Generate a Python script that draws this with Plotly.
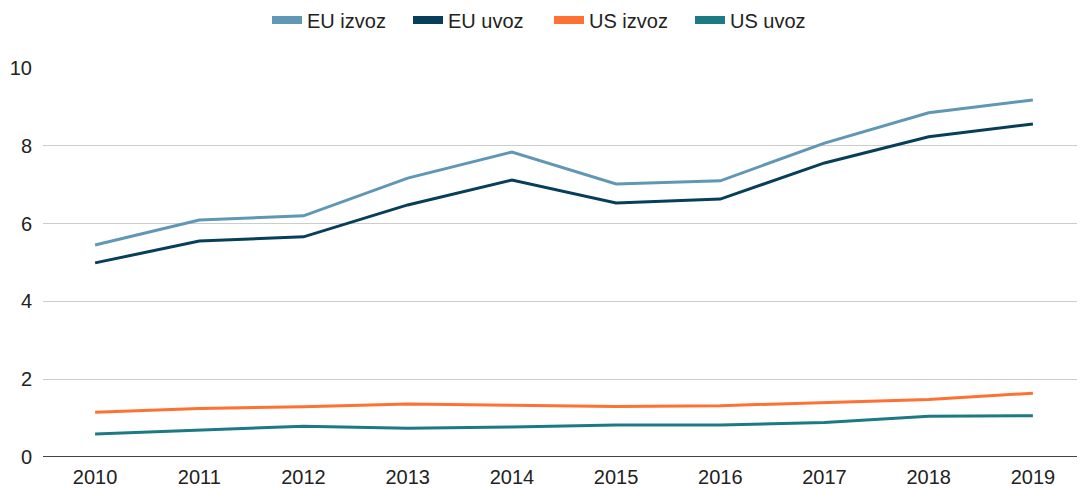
import plotly.graph_objects as go

years = [2010, 2011, 2012, 2013, 2014, 2015, 2016, 2017, 2018, 2019]
eu_izvoz = [5.45, 6.09, 6.20, 7.17, 7.84, 7.02, 7.10, 8.07, 8.85, 9.18]
eu_uvoz = [4.99, 5.55, 5.66, 6.48, 7.12, 6.53, 6.63, 7.56, 8.23, 8.56]
us_izvoz = [1.15, 1.25, 1.29, 1.36, 1.33, 1.30, 1.32, 1.40, 1.48, 1.64]
us_uvoz = [0.59, 0.69, 0.79, 0.74, 0.77, 0.82, 0.82, 0.89, 1.05, 1.06]

series = [
    ("EU izvoz", eu_izvoz, "#5f97b5"),
    ("EU uvoz", eu_uvoz, "#073f5a"),
    ("US izvoz", us_izvoz, "#ff7033"),
    ("US uvoz", us_uvoz, "#1c7a85"),
]

labels = [str(y) for y in years]

fig = go.Figure()
for name, values, color in series:
    fig.add_trace(go.Scatter(
        x=labels,
        y=values,
        name=name,
        mode="lines",
        line=dict(color=color, width=3),
        showlegend=False,
    ))
# legend-only entries with thick swatches
for name, values, color in series:
    fig.add_trace(go.Scatter(
        x=[labels[0]],
        y=[None],
        name=name,
        mode="lines",
        line=dict(color=color, width=8),
    ))

# page body adds an 8px offset, so the figure is 8px smaller each way
fig.update_layout(
    width=1077,
    height=480,
    margin=dict(l=35, r=0, t=60, b=31, autoexpand=False),
    paper_bgcolor="white",
    plot_bgcolor="white",
    font=dict(family="Liberation Sans, Arial, sans-serif", size=20, color="#222222"),
    legend=dict(
        orientation="h",
        x=0.2405,
        xanchor="left",
        xref="container",
        y=0.975,
        yanchor="middle",
        yref="container",
        font=dict(size=20, color="#222222"),
        itemwidth=30,
        entrywidth=96,
    ),
    xaxis=dict(
        type="category",
        showgrid=False,
        range=[-0.5, 9.5],
        ticks="",
        showline=False,
        zeroline=False,
        ticklabelstandoff=6,
    ),
    yaxis=dict(
        range=[0, 10],
        dtick=2,
        showgrid=True,
        gridcolor="#cccccc",
        gridwidth=1,
        zeroline=False,
        showline=False,
        ticks="",
        ticklabelstandoff=10,
    ),
    shapes=[dict(
        type="line", xref="paper", yref="y", x0=0, x1=1, y0=0, y1=0,
        line=dict(color="#444444", width=2),
    )],
)

fig.write_html("out.html")
